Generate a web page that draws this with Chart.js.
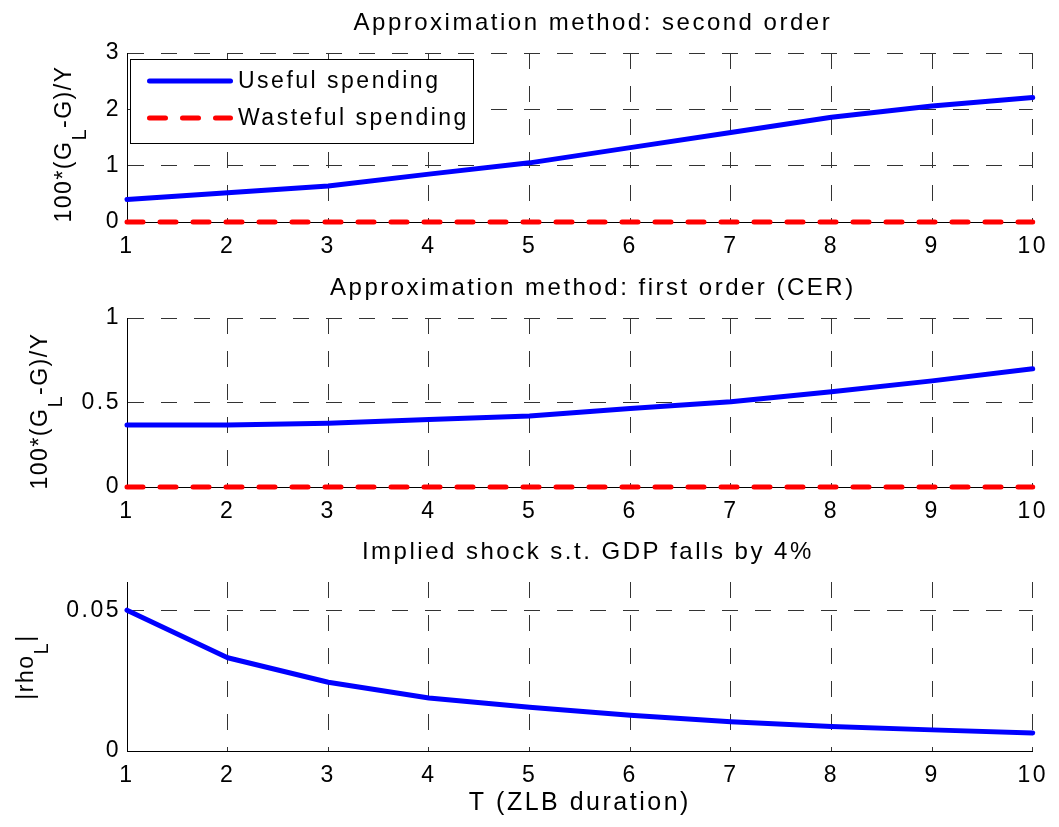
<!DOCTYPE html>
<html lang="en">
<head>
<meta charset="UTF-8">
<title>ZLB spending</title>
<script src="https://cdn.jsdelivr.net/npm/chart.js@4.4.1/dist/chart.umd.min.js"></script>
<style>
body { margin: 0; background: white; }
#wrap { position: relative; width: 1059px; height: 827px; background: white; }
#wrap canvas { position: absolute; left: 0; }
</style>
</head>
<body>
<div id="wrap">
  <canvas id="c1" width="1059" height="265" style="top:0px"></canvas>
  <canvas id="c2" width="1059" height="264" style="top:265px"></canvas>
  <canvas id="c3" width="1059" height="298" style="top:529px"></canvas>
</div>
<script>
// ZLB duration
const T = [1, 2, 3, 4, 5, 6, 7, 8, 9, 10];

// second order approximation
const useful2nd = [0.40, 0.52, 0.64, 0.85, 1.05, 1.32, 1.59, 1.86, 2.06, 2.21];
const wasteful2nd = [0, 0, 0, 0, 0, 0, 0, 0, 0, 0];

// first order (CER)
const useful1st = [0.367, 0.367, 0.377, 0.40, 0.42, 0.465, 0.505, 0.563, 0.628, 0.70];
const wasteful1st = [0, 0, 0, 0, 0, 0, 0, 0, 0, 0];

// implied shock
const rhoL = [0.050, 0.0331, 0.0244, 0.0188, 0.0155, 0.0127, 0.0104, 0.0087, 0.0075, 0.0064];

const yTicks1 = [0, 1, 2, 3];
const yTicks2 = [0, 0.5, 1];
const yTicks3 = [0, 0.05];

const FONT = "'Liberation Sans', Arial, Helvetica, sans-serif";
const SPACING = '2.5px';

function pts(ys) {
    return T.map((t, i) => ({x: t, y: ys[i]}));
}

// MATLAB text is drawn quite wide, so spread the letters a bit
const spacing = {
    id: 'spacing',
    beforeLayout(chart) { chart.ctx.letterSpacing = SPACING; },
    afterLayout(chart, args, o) {
        // matlab centres the title a little right of the axes centre
        if (o.titleShift && chart.titleBlock) {
            chart.titleBlock.left += o.titleShift;
            chart.titleBlock.right += o.titleShift;
        }
    },
    beforeDraw(chart) { chart.ctx.letterSpacing = SPACING; }
};

// y label with a subscript, e.g. 100*(G_L-G)/Y
const yLabel = {
    id: 'yLabel',
    afterDraw(chart, args, o) {
        const ctx = chart.ctx;
        ctx.save();
        ctx.letterSpacing = '1.5px';
        ctx.fillStyle = '#000';
        ctx.textBaseline = 'middle';
        ctx.textAlign = 'left';
        const big = '23px ' + FONT, small = '20px ' + FONT;
        ctx.font = big;
        const w1 = ctx.measureText(o.pre).width;
        const w3 = ctx.measureText(o.post).width;
        ctx.font = small;
        const w2 = ctx.measureText(o.sub).width;
        const total = w1 + w2 + w3;
        ctx.translate(o.x, o.cy);
        ctx.rotate(-Math.PI / 2);
        let x = -total / 2;
        ctx.font = big;
        ctx.fillText(o.pre, x, 0);
        x += w1;
        ctx.font = small;
        ctx.fillText(o.sub, x, o.subDy);
        x += w2;
        ctx.font = big;
        ctx.fillText(o.post, x, 0);
        ctx.restore();
    }
};

// boxed legend in the upper left corner of the axes
const boxLegend = {
    id: 'boxLegend',
    afterDatasetsDraw(chart, args, o) {
        if (!o.show) return;
        const ctx = chart.ctx;
        ctx.save();
        ctx.fillStyle = '#fff';
        ctx.fillRect(o.x, o.y, o.w, o.h);
        ctx.strokeStyle = '#000';
        ctx.lineWidth = 1;
        ctx.strokeRect(o.x + 0.5, o.y + 0.5, o.w, o.h);
        chart.data.datasets.forEach((ds, i) => {
            const y = o.y + o.first + i * o.step;
            ctx.beginPath();
            ctx.strokeStyle = ds.borderColor;
            ctx.lineWidth = ds.borderWidth;
            ctx.lineCap = 'round';
            ctx.setLineDash(ds.borderDash || []);
            ctx.moveTo(o.x + 19.5, y);
            ctx.lineTo(o.x + 100.5, y);
            ctx.stroke();
            ctx.setLineDash([]);
            ctx.fillStyle = '#000';
            ctx.font = '23px ' + FONT;
            ctx.letterSpacing = SPACING;
            ctx.textBaseline = 'middle';
            ctx.fillText(ds.label, o.x + 108, y + 1);
        });
        ctx.restore();
    }
};

function makeChart(id, cfg) {
    const axisFont = {family: FONT, size: 23};
    const xHeight = cfg.xHeight;
    return new Chart(document.getElementById(id), {
        type: 'line',
        data: {datasets: cfg.datasets},
        options: {
            responsive: false,
            animation: false,
            layout: {padding: {left: 0, right: 22, top: 0, bottom: 0}},
            elements: {point: {radius: 0}, line: {tension: 0}},
            scales: {
                x: {
                    type: 'linear',
                    min: 1, max: 10,
                    afterFit: s => { s.height = xHeight; },
                    afterBuildTicks: s => { s.ticks = T.map(v => ({value: v})); },
                    ticks: {color: '#000', font: axisFont, padding: 11, maxRotation: 0},
                    grid: {color: '#333', lineWidth: 1, drawTicks: false},
                    border: {color: '#000', width: 1, dash: [16, 17]},
                    title: cfg.xTitle ? {
                        display: true, text: cfg.xTitle, color: '#000',
                        font: {family: FONT, size: 25}, padding: {top: 4, bottom: 9}
                    } : {display: false}
                },
                y: {
                    type: 'linear',
                    min: cfg.yMin, max: cfg.yMax,
                    afterFit: s => { s.width = 127; },
                    afterBuildTicks: s => { s.ticks = cfg.yTicks.map(v => ({value: v})); },
                    ticks: {color: '#000', font: axisFont, padding: 6, callback: v => String(v)},
                    grid: {color: '#333', lineWidth: 1, drawTicks: false},
                    border: {color: '#000', width: 1, dash: [16, 17]}
                }
            },
            plugins: {
                legend: {display: false},
                tooltip: {enabled: false},
                title: {
                    display: true, text: cfg.title, color: '#000', fullSize: false,
                    font: {family: FONT, size: 24, weight: 'normal'},
                    padding: {top: 8.6, bottom: 15.6}
                },
                spacing: {titleShift: cfg.titleShift},
                yLabel: cfg.yLabel,
                boxLegend: cfg.legend || {show: false}
            }
        },
        plugins: [spacing, yLabel, boxLegend]
    });
}

function useful(data) {
    return {label: 'Useful spending', data: pts(data), borderColor: '#0000ff',
        borderWidth: 5, borderCapStyle: 'round', borderJoinStyle: 'round', clip: false};
}
function wasteful(data) {
    return {label: 'Wasteful spending', data: pts(data), borderColor: '#ff0000',
        borderWidth: 5, borderDash: [16, 17], borderCapStyle: 'round', clip: false};
}

makeChart('c1', {
    title: 'Approximation method: second order', titleShift: 13,
    datasets: [useful(useful2nd), wasteful(wasteful2nd)],
    yMin: 0, yMax: 3, yTicks: yTicks1, xHeight: 43,
    yLabel: {pre: '100*(G', sub: 'L', post: '-G)/Y', x: 65, cy: 144, subDy: 15},
    legend: {show: true, x: 130, y: 59, w: 343, h: 84, first: 22, step: 37}
});

makeChart('c2', {
    title: 'Approximation method: first order (CER)', titleShift: 13,
    datasets: [useful(useful1st), wasteful(wasteful1st)],
    yMin: 0, yMax: 1, yTicks: yTicks2, xHeight: 42,
    yLabel: {pre: '100*(G', sub: 'L', post: '-G)/Y', x: 41, cy: 146, subDy: 15}
});

makeChart('c3', {
    title: 'Implied shock s.t. GDP falls by 4%', titleShift: 8,
    datasets: [useful(rhoL)],
    yMin: 0, yMax: 0.06, yTicks: yTicks3, xHeight: 76,
    xTitle: 'T (ZLB duration)',
    yLabel: {pre: '|rho', sub: 'L', post: '|', x: 27, cy: 138, subDy: 15}
});
</script>
</body>
</html>
